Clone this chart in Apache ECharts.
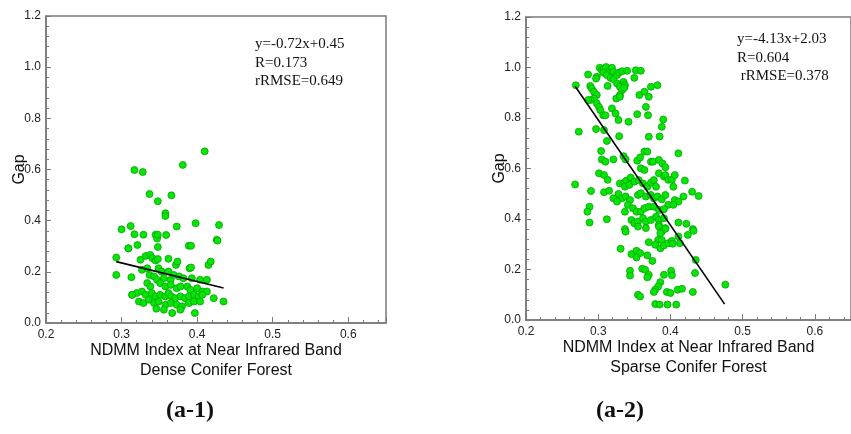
<!DOCTYPE html>
<html>
<head>
<meta charset="utf-8">
<script src="https://cdn.jsdelivr.net/npm/echarts@6/dist/echarts.min.js"></script>
<style>
html,body{margin:0;padding:0;background:#fff;}
#chart{width:851px;height:434px;}
</style>
</head>
<body>
<div id="chart"></div>
<script>
// ---- Data ----
var xTicks = [0.2, 0.3, 0.4, 0.5, 0.6];
var yTicks = [0.0, 0.2, 0.4, 0.6, 0.8, 1.0, 1.2];
var xAxisTitle = 'NDMM Index at Near Infrared Band';
var subTitles = ['Dense Conifer Forest', 'Sparse Conifer Forest'];
var panelLabels = ['(a-1)', '(a-2)'];
var statsDense = ['y=-0.72x+0.45', 'R=0.173', 'rRMSE=0.649'];
var statsSparse = ['y=-4.13x+2.03', 'R=0.604', ' rRMSE=0.378'];

var denseX = [0.410,0.381,0.317,0.328,0.337,0.348,0.366,0.358,0.358,0.398,0.312,0.373,0.429,0.300,
0.317,0.329,0.345,0.347,0.348,0.359,0.309,0.321,0.348,0.389,0.392,0.426,0.293,0.293,0.313,
0.325,0.332,0.338,0.341,0.345,0.348,0.362,0.372,0.374,0.390,0.392,0.415,0.418,0.327,0.334,
0.349,0.353,0.362,0.337,0.343,0.347,0.356,0.365,0.369,0.376,0.382,0.393,0.404,0.413,
0.334,0.338,0.351,0.358,0.365,0.373,0.378,0.387,0.391,0.400,0.407,0.413,
0.314,0.320,0.327,0.332,0.340,0.345,0.351,0.358,0.362,0.366,0.371,0.378,0.384,0.389,0.396,0.402,0.407,
0.323,0.329,0.336,0.343,0.349,0.358,0.365,0.373,0.380,0.389,0.396,0.404,0.422,0.435,
0.346,0.356,0.367,0.378,0.397,0.309,0.314,0.427];
var denseY = [0.671,0.618,0.598,0.590,0.504,0.476,0.499,0.429,0.418,0.390,0.379,0.377,0.383,0.366,
0.347,0.345,0.345,0.330,0.345,0.344,0.292,0.305,0.297,0.302,0.302,0.325,0.256,0.188,0.179,
0.247,0.262,0.266,0.253,0.244,0.250,0.251,0.227,0.240,0.214,0.217,0.227,0.240,0.208,0.214,
0.214,0.201,0.201,0.188,0.182,0.169,0.175,0.169,0.188,0.182,0.175,0.175,0.169,0.169,
0.156,0.143,0.156,0.143,0.149,0.136,0.143,0.143,0.130,0.136,0.123,0.123,
0.110,0.117,0.123,0.110,0.117,0.104,0.110,0.104,0.117,0.104,0.097,0.104,0.097,0.104,0.110,0.104,0.110,
0.084,0.078,0.091,0.078,0.084,0.071,0.078,0.071,0.065,0.078,0.084,0.084,0.097,0.084,
0.056,0.052,0.039,0.052,0.039,0.292,0.110,0.322];
var denseLineX = [0.293, 0.435];
var denseLineY = [0.240, 0.137];

var sparseX = [0.269,0.286,0.298,0.302,0.305,0.308,0.311,0.315,0.319,0.321,0.307,0.312,0.317,0.321,0.326,0.329,0.333,0.340,0.352,0.359,
0.350,0.373,0.382,0.289,0.291,0.297,0.294,0.298,0.294,0.289,0.286,
0.313,0.326,0.330,0.335,0.337,0.333,0.330,0.325,0.330,0.336,0.357,0.364,0.370,
0.298,0.301,0.303,0.307,0.319,0.324,0.310,0.328,0.366,0.369,0.354,0.342,0.390,0.388,
0.273,0.297,0.308,0.329,0.370,0.385,0.312,
0.304,0.305,0.310,0.321,0.335,0.338,0.354,0.358,0.364,0.368,0.373,0.376,0.384,0.389,0.393,0.411,0.359,0.364,
0.268,0.301,0.308,0.313,0.290,0.308,0.315,
0.330,0.336,0.339,0.345,0.337,0.343,0.350,0.356,0.362,0.368,0.373,0.377,0.380,
0.384,0.391,0.393,0.397,0.402,0.406,0.404,0.420,0.430,0.439,0.418,
0.328,0.333,0.338,0.344,0.321,0.326,0.355,0.359,0.366,0.373,0.377,0.382,0.388,
0.393,0.406,0.411,0.397,0.404,0.288,0.285,
0.341,0.348,0.337,0.353,0.359,0.364,0.370,0.377,0.384,0.391,0.312,0.288,
0.346,0.350,0.355,0.362,0.366,0.373,0.380,0.384,0.391,0.411,0.422,
0.337,0.355,0.366,0.384,0.393,0.431,
0.338,0.384,0.388,0.393,0.386,0.411,0.424,0.432,0.413,0.370,0.383,0.388,0.379,0.386,0.391,
0.397,0.402,0.403,0.331,0.346,0.353,0.358,0.353,0.368,0.375,0.435,
0.344,0.344,0.361,0.365,0.370,0.368,0.391,0.401,0.402,0.434,
0.386,0.383,0.379,0.377,0.395,0.400,0.410,0.416,0.431,0.476,0.355,0.358,
0.379,0.385,0.396,0.408];
var sparseY = [0.930,0.972,0.963,0.999,0.989,0.996,1.002,0.985,0.999,0.983,0.980,0.970,0.959,0.954,0.970,0.980,0.985,0.987,0.989,0.987,
0.959,0.924,0.930,0.927,0.917,0.956,0.904,0.891,0.877,0.871,0.871,
0.927,0.937,0.924,0.943,0.930,0.910,0.891,0.877,0.884,0.920,0.891,0.904,0.884,
0.858,0.844,0.831,0.811,0.838,0.818,0.811,0.792,0.844,0.811,0.815,0.785,0.794,0.765,
0.746,0.756,0.752,0.728,0.726,0.727,0.709,
0.669,0.636,0.627,0.636,0.649,0.636,0.631,0.644,0.667,0.667,0.627,0.627,0.634,0.620,0.605,0.660,0.601,0.594,
0.537,0.581,0.574,0.555,0.511,0.506,0.512,
0.541,0.544,0.552,0.564,0.528,0.535,0.548,0.554,0.541,0.528,0.544,0.554,0.528,
0.581,0.568,0.574,0.555,0.555,0.574,0.528,0.552,0.508,0.491,0.489,
0.499,0.482,0.489,0.475,0.482,0.469,0.495,0.502,0.489,0.495,0.482,0.489,0.478,
0.495,0.475,0.469,0.456,0.456,0.449,0.429,
0.456,0.443,0.429,0.429,0.429,0.443,0.449,0.449,0.436,0.439,0.399,0.386,
0.396,0.383,0.390,0.403,0.390,0.396,0.409,0.396,0.403,0.386,0.381,
0.360,0.370,0.364,0.377,0.364,0.360,
0.350,0.370,0.350,0.361,0.344,0.331,0.337,0.353,0.304,0.308,0.317,0.317,0.298,0.284,0.295,
0.304,0.313,0.302,0.282,0.261,0.274,0.265,0.248,0.256,0.234,0.238,
0.195,0.176,0.203,0.199,0.179,0.169,0.179,0.195,0.177,0.186,
0.150,0.133,0.120,0.111,0.111,0.107,0.120,0.124,0.111,0.140,0.100,0.093,
0.063,0.061,0.061,0.061];
var sparseLineX = [0.268, 0.475];
var sparseLineY = [0.926, 0.063];

function zip(a, b) { return a.map(function (v, i) { return [v, b[i]]; }); }

// ---- Styling ----
var AXIS_COLOR = '#7a7a7a';
var LABEL_COLOR = '#222';
var SANS = 'Liberation Sans, Arial, sans-serif';
var SERIF = 'Liberation Serif, Times New Roman, serif';

function makeX(idx) {
  return {
    gridIndex: idx, type: 'value', min: xTicks[0], max: 0.65, interval: 0.1,
    name: xAxisTitle + '\n' + subTitles[idx], nameLocation: 'middle', nameGap: 18,
    nameMoveOverlap: false,
    nameTextStyle: { fontFamily: SANS, fontSize: 16, color: '#111', lineHeight: 20, verticalAlign: 'top' },
    axisLine: { show: true, lineStyle: { color: AXIS_COLOR, width: 1.5 } },
    axisTick: { show: true, inside: true, length: 6, lineStyle: { color: AXIS_COLOR } },
    minorTick: { show: true, splitNumber: 5, length: 3, lineStyle: { color: AXIS_COLOR } },
    splitLine: { show: false },
    axisLabel: { showMaxLabel: false, margin: 6, fontFamily: SANS, fontSize: 12, color: LABEL_COLOR,
      formatter: function (v) { return v.toFixed(1); } }
  };
}
function makeY(idx) {
  return {
    gridIndex: idx, type: 'value', min: yTicks[0], max: yTicks[yTicks.length - 1], interval: 0.2,
    name: 'Gap', nameLocation: 'middle', nameGap: 18, nameRotate: 90,
    nameMoveOverlap: false,
    nameTextStyle: { fontFamily: SANS, fontSize: 16, color: '#111' },
    axisLine: { show: true, lineStyle: { color: AXIS_COLOR, width: 1.5 } },
    axisTick: { show: true, inside: true, length: 5, lineStyle: { color: AXIS_COLOR } },
    minorTick: { show: true, splitNumber: 5, length: 3, lineStyle: { color: AXIS_COLOR } },
    splitLine: { show: false },
    axisLabel: { margin: 5, fontFamily: SANS, fontSize: 12, color: LABEL_COLOR,
      formatter: function (v) { return v.toFixed(1); } }
  };
}
function scatter(idx, data) {
  return { type: 'scatter', xAxisIndex: idx, yAxisIndex: idx, data: data, symbolSize: 7,
    itemStyle: { color: '#08e408', borderColor: '#00a800', borderWidth: 0.8, opacity: 1 }, z: 2 };
}
function fitLine(idx, data) {
  return { type: 'line', xAxisIndex: idx, yAxisIndex: idx, data: data, showSymbol: false, symbol: 'none',
    lineStyle: { color: '#000', width: 1.6 }, z: 3 };
}
function statText(x, y, lines) {
  return { type: 'text', left: x, top: y,
    style: { text: lines.join('\n'), font: '15px ' + SERIF, fill: '#111', lineHeight: 18.5 } };
}

var chart = echarts.init(document.getElementById('chart'), null, { renderer: 'canvas' });
chart.setOption({
  animation: false,
  backgroundColor: '#fff',
  grid: [
    { left: 46, top: 16, right: 465, bottom: 111, show: true, borderColor: AXIS_COLOR, borderWidth: 1.5 },
    { left: 526, top: 17, right: -11, bottom: 114, show: true, borderColor: AXIS_COLOR, borderWidth: 1.5 }
  ],
  xAxis: [makeX(0), makeX(1)],
  yAxis: [makeY(0), makeY(1)],
  series: [
    scatter(0, zip(denseX, denseY)),
    fitLine(0, zip(denseLineX, denseLineY)),
    scatter(1, zip(sparseX, sparseY)),
    fitLine(1, zip(sparseLineX, sparseLineY))
  ],
  graphic: [
    statText(255, 35, statsDense),
    statText(737, 30, statsSparse),
    { type: 'text', left: 166, top: 399, style: { text: panelLabels[0], font: 'bold 24px ' + SERIF, fill: '#111' } },
    { type: 'text', left: 596, top: 399, style: { text: panelLabels[1], font: 'bold 24px ' + SERIF, fill: '#111' } }
  ]
});
</script>
</body>
</html>
